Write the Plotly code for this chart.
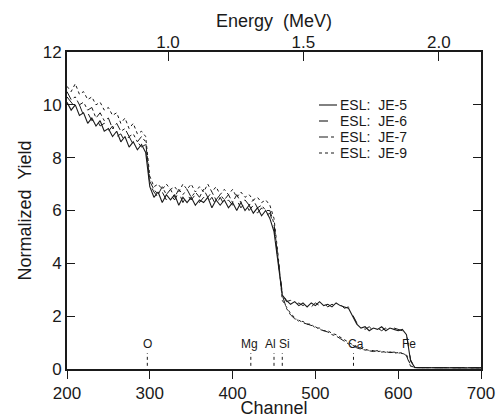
import plotly.graph_objects as go

# Channels (every 5 channels up to 615, then sparse tail)
channel = list(range(200, 620, 5)) + [620, 640, 660, 680, 700]

je5 = [10.1, 9.8, 10.0, 9.6, 9.7, 9.3, 9.5, 9.2, 9.4, 9.0, 9.1, 8.8, 9.0, 8.6, 8.8, 8.4, 8.6, 8.3, 8.5, 8.2,
       6.9, 6.5, 6.7, 6.3, 6.6, 6.4, 6.6, 6.2, 6.5, 6.3, 6.5, 6.2, 6.4, 6.3, 6.5, 6.1, 6.4, 6.2, 6.4, 6.1,
       6.3, 6.0, 6.3, 6.0, 6.2, 5.9, 6.1, 5.8, 6.0, 5.7, 5.2, 3.9, 2.8, 2.6, 2.45, 2.55, 2.4, 2.5, 2.35, 2.5,
       2.4, 2.55, 2.4, 2.45, 2.35, 2.5, 2.4, 2.35, 2.3, 2.0, 1.7, 1.55, 1.6, 1.45, 1.55, 1.5, 1.6, 1.45, 1.55, 1.5,
       1.45, 1.5, 1.3, 0.3, 0.06, 0.05, 0.04, 0.05, 0.04]
je6 = [10.3, 10.1, 9.9, 10.0, 9.6, 9.7, 9.4, 9.5, 9.2, 9.3, 9.0, 9.2, 8.8, 8.9, 8.6, 8.8, 8.5, 8.6, 8.4, 8.5,
       7.0, 6.7, 6.5, 6.7, 6.4, 6.6, 6.4, 6.7, 6.3, 6.6, 6.4, 6.6, 6.3, 6.5, 6.3, 6.5, 6.2, 6.5, 6.2, 6.4,
       6.2, 6.4, 6.1, 6.3, 6.0, 6.2, 5.9, 6.1, 5.8, 5.9, 5.4, 4.1, 2.9, 2.55, 2.6, 2.4, 2.5, 2.4, 2.5, 2.35,
       2.5, 2.4, 2.5, 2.35, 2.45, 2.4, 2.45, 2.3, 2.35, 2.05, 1.75, 1.6, 1.5, 1.6, 1.45, 1.55, 1.45, 1.55, 1.45, 1.55,
       1.5, 1.45, 1.35, 0.35, 0.05, 0.05, 0.05, 0.04, 0.05]
je7 = [10.5, 10.2, 10.3, 10.0, 10.1, 9.8, 9.9, 9.5, 9.7, 9.4, 9.5, 9.1, 9.3, 9.0, 9.1, 8.8, 8.9, 8.6, 8.8, 8.6,
       7.1, 6.8, 6.6, 6.9, 6.6, 6.8, 6.5, 6.8, 6.6, 6.8, 6.5, 6.7, 6.5, 6.8, 6.5, 6.7, 6.4, 6.6, 6.4, 6.6,
       6.3, 6.6, 6.3, 6.4, 6.2, 6.4, 6.1, 6.2, 6.0, 6.0, 5.5, 4.2, 2.8, 2.3, 2.05, 1.9, 1.85, 1.75, 1.7, 1.65,
       1.6, 1.5, 1.45, 1.4, 1.3, 1.25, 1.15, 1.05, 0.95, 0.9, 0.8, 0.75, 0.72, 0.7, 0.66, 0.7, 0.64, 0.66, 0.62, 0.64,
       0.6, 0.62, 0.5, 0.1, 0.05, 0.05, 0.04, 0.05, 0.05]
je9 = [10.7, 10.5, 10.8, 10.4, 10.5, 10.2, 10.3, 10.0, 10.1, 9.8, 9.9, 9.6, 9.7, 9.3, 9.5, 9.1, 9.3, 8.9, 9.0, 8.8,
       7.3, 6.9, 7.0, 6.8, 7.0, 6.8, 6.9, 6.7, 7.0, 6.8, 7.0, 6.7, 6.9, 6.7, 7.0, 6.7, 6.9, 6.6, 6.8, 6.6,
       6.8, 6.5, 6.7, 6.5, 6.6, 6.4, 6.5, 6.3, 6.4, 6.2, 5.7, 4.3, 2.6, 2.35, 2.1, 1.95, 1.8, 1.8, 1.7, 1.7,
       1.55, 1.55, 1.45, 1.45, 1.35, 1.3, 1.2, 1.1, 1.0, 0.92, 0.85, 0.78, 0.75, 0.7, 0.7, 0.66, 0.68, 0.63, 0.65, 0.6,
       0.62, 0.58, 0.55, 0.12, 0.05, 0.05, 0.05, 0.05, 0.04]

series_names = ["ESL: JE-5", "ESL: JE-6", "ESL: JE-7", "ESL: JE-9"]
series_dash = ["solid", "dash", "dashdot", "dot"]

element_names = ["O", "Mg", "Al", "Si", "Ca", "Fe"]
element_channels = [297, 422, 450, 460, 546, 612]
element_label_channels = [297, 421, 446, 463, 549, 613]
marker_low, marker_high = 0.12, 0.6

energy_ticks = [1.0, 1.5, 2.0]
energy_range = [0.627, 2.156]

FONT = "Liberation Sans, Arial, sans-serif"
INK = "#1a1a1a"
W, H = 497, 418
ML, MR, MT, MB = 67, 16, 52, 49
PW, PH = W - ML - MR, H - MT - MB
NB = "\u00a0"

fig = go.Figure()
for name, vals, dash in zip(series_names, [je5, je6, je7, je9], series_dash):
    fig.add_trace(go.Scatter(x=channel, y=vals, mode="lines", name=name, showlegend=False,
                             line=dict(color=INK, width=1.1 if dash == "solid" else 1.0, dash=dash)))

# hand-drawn style legend (short line sample + label), inside the plot
leg_x0, leg_x1, leg_top, leg_step = 319, 337, 105, 16
for i, (name, dash) in enumerate(zip(series_names, series_dash)):
    py = leg_top + i * leg_step
    yp = (H - MB - py) / PH
    fig.add_shape(type="line", xref="paper", yref="paper",
                  x0=(leg_x0 - ML) / PW, x1=(leg_x1 - ML) / PW, y0=yp, y1=yp,
                  line=dict(color=INK, width=1.1, dash=dash))
    fig.add_annotation(x=(leg_x1 + 1 - ML) / PW, y=yp, xref="paper", yref="paper",
                       xanchor="left", yanchor="middle", showarrow=False,
                       text=name.replace(" ", NB + " "),
                       font=dict(family=FONT, size=14, color=INK))

# element marker dotted lines
mx, my = [], []
for c in element_channels[:-1]:
    mx += [c, c, None]
    my += [marker_low, marker_high, None]
fig.add_trace(go.Scatter(x=mx, y=my, mode="lines", showlegend=False, hoverinfo="skip",
                         line=dict(color=INK, width=1, dash="dot")))

for n, c in zip(element_names, element_label_channels):
    fig.add_annotation(x=c, y=0.95, text=n, showarrow=False, xref="x", yref="y",
                       font=dict(family=FONT, size=12, color=INK))

# dummy trace for the top energy axis
fig.add_trace(go.Scatter(x=energy_range, y=[None, None], xaxis="x2", yaxis="y",
                         showlegend=False, hoverinfo="skip"))

fig.update_layout(
    width=W, height=H,
    margin=dict(l=ML, r=MR, t=MT, b=MB, autoexpand=False),
    paper_bgcolor="white", plot_bgcolor="white",
    font=dict(family=FONT, size=17, color=INK),
    showlegend=False,
    xaxis=dict(range=[200, 700], tickvals=[200, 300, 400, 500, 600, 700], ticks="outside",
               ticklen=8, tickwidth=1.3, tickcolor=INK, showline=True, linecolor=INK, linewidth=1.8,
               mirror=True, showgrid=False, zeroline=False, automargin=False,
               title=dict(text="Channel", font=dict(size=18), standoff=0),
               tickfont=dict(size=17)),
    xaxis2=dict(range=energy_range, overlaying="x", side="top", anchor="y",
                tickvals=energy_ticks, ticktext=["1.0", "1.5", "2.0"], ticks="inside",
                ticklen=9, tickwidth=1.3, tickcolor=INK, showline=False, showgrid=False,
                zeroline=False, automargin=False,
                title=dict(text="Energy" + NB + " (MeV)", font=dict(size=18), standoff=0),
                tickfont=dict(size=17)),
    yaxis=dict(range=[0, 12], tickvals=[0, 2, 4, 6, 8, 10, 12], ticks="inside", ticklen=8,
               tickwidth=1.3, tickcolor=INK, showline=True, linecolor=INK, linewidth=1.8,
               mirror="ticks", showgrid=False, zeroline=False, automargin=False,
               title=dict(text="Normalized" + NB + " Yield", font=dict(size=18), standoff=6),
               tickfont=dict(size=17)),
)

fig.write_html("out.html", config={"displayModeBar": False},
               post_script="document.body.style.margin='0';document.body.style.overflow='hidden';")
